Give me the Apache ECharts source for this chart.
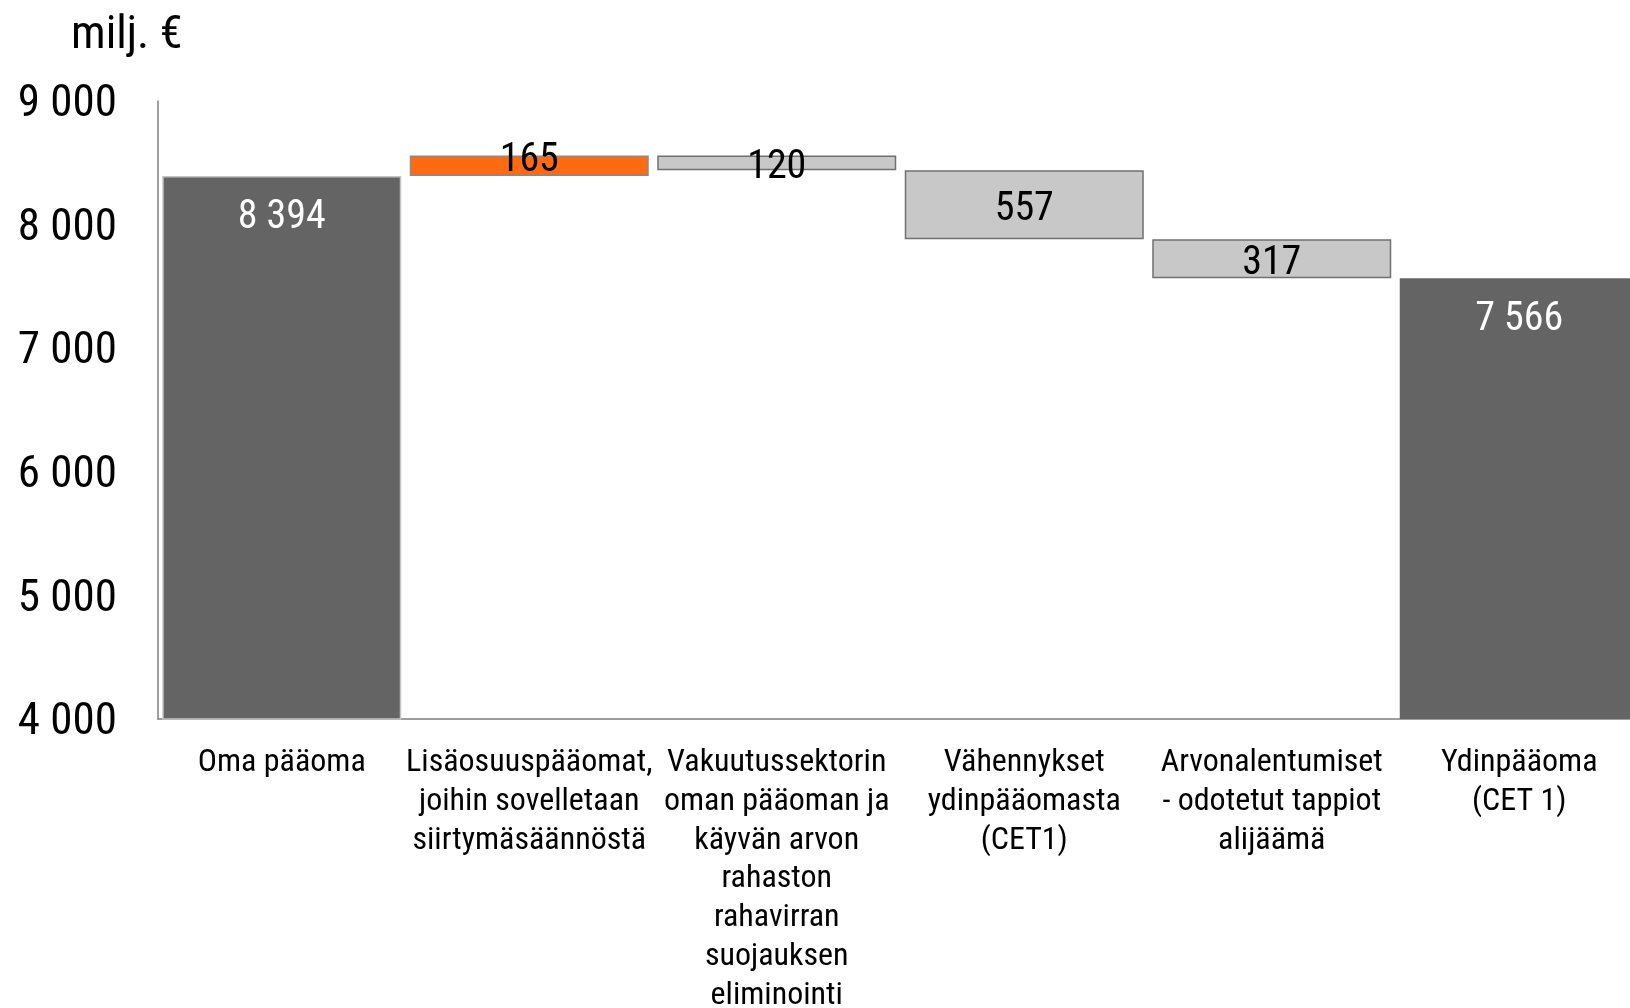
<!DOCTYPE html>
<html>
<head>
<meta charset="utf-8">
<script src="https://cdn.jsdelivr.net/npm/echarts@6/dist/echarts.min.js"></script>
<style>
  html, body { margin: 0; padding: 0; background: #fff; }
  #chart { width: 1630px; height: 1008px; }
</style>
</head>
<body>
<div id="chart"></div>
<script>
// categories and amounts (milj. €)
const categories = [
    'Oma pääoma',
    'Lisäosuuspääomat,\njoihin sovelletaan\nsiirtymäsäännöstä',
    'Vakuutussektorin\noman pääoman ja\nkäyvän arvon\nrahaston\nrahavirran\nsuojauksen\neliminointi',
    'Vähennykset\nydinpääomasta\n(CET1)',
    'Arvonalentumiset\n- odotetut tappiot\nalijäämä',
    'Ydinpääoma\n(CET 1)'
];
const amounts = [8394, 165, 120, 557, 317, 7566];
// +1 = increase, -1 = decrease, 0 = total bar
const direction = [0, 1, -1, -1, -1, 0];
const yTicks = [4000, 5000, 6000, 7000, 8000, 9000];

const barColors = ['#646464', '#ff6a13', '#c8c8c8', '#c8c8c8', '#c8c8c8', '#646464'];
const borderColors = ['#c4c4c4', '#8a8a8a', '#707070', '#707070', '#707070', '#646464'];

// running total -> invisible base for the floating bars
const base = [];
let running = 0;
amounts.forEach((v, i) => {
    if (direction[i] === 0) {
        base.push(0);
        running = v;
    } else if (direction[i] > 0) {
        base.push(running);
        running += v;
    } else {
        running -= v;
        base.push(running);
    }
});

const fmt = v => String(v).replace(/\B(?=(\d{3})+(?!\d))/g, ' ');
const cond = '"Roboto Condensed", "DejaVu Sans Condensed", Roboto, sans-serif';

const chart = echarts.init(document.getElementById('chart'));

const valueData = amounts.map((v, i) => {
    const isTotal = direction[i] === 0;
    return {
        value: v,
        itemStyle: {
            color: barColors[i],
            borderColor: borderColors[i],
            borderWidth: isTotal ? (i === 0 ? 1.5 : 0) : 1.5
        },
        label: isTotal
            ? { position: 'insideTop', distance: 22, color: '#ffffff' }
            : { position: 'inside', color: '#000000', offset: i === 1 ? [0, -5] : [0, 5] }
    };
});

const option = {
    animation: false,
    backgroundColor: '#ffffff',
    title: {
        text: 'milj. €',
        left: 66,
        top: 8,
        textStyle: { fontFamily: cond, fontSize: 46, fontWeight: 'normal', color: '#000' }
    },
    grid: {
        left: 158,
        top: 101,
        width: 1485,
        height: 618,
        containLabel: false,
        outerBoundsMode: 'none'
    },
    xAxis: {
        type: 'category',
        data: categories,
        axisLine: { show: true, lineStyle: { color: '#7f7f7f', width: 1.5 } },
        axisTick: { show: false },
        axisLabel: {
            interval: 0,
            margin: 25,
            color: '#000',
            fontFamily: cond,
            fontSize: 32,
            lineHeight: 38.7
        }
    },
    yAxis: {
        type: 'value',
        min: yTicks[0],
        max: yTicks[yTicks.length - 1],
        interval: 1000,
        axisLine: { show: true, lineStyle: { color: '#7f7f7f', width: 1.5 } },
        axisTick: { show: false },
        splitLine: { show: false },
        axisLabel: {
            margin: 41,
            color: '#000',
            formatter: v => '{t|' + fmt(v) + '}',
            rich: {
                t: {
                    fontFamily: cond,
                    fontSize: 45,
                    color: '#000',
                    padding: [8, 0, 0, 0]
                }
            }
        }
    },
    series: [
        {
            name: 'base',
            type: 'bar',
            stack: 'wf',
            barWidth: 239,
            itemStyle: { color: 'transparent' },
            emphasis: { disabled: true },
            data: base
        },
        {
            name: 'amount',
            type: 'bar',
            stack: 'wf',
            barWidth: 239,
            clip: true,
            label: {
                show: true,
                fontFamily: cond,
                fontSize: 40,
                formatter: p => fmt(p.value)
            },
            data: valueData
        }
    ]
};

chart.setOption(option);
</script>
</body>
</html>
